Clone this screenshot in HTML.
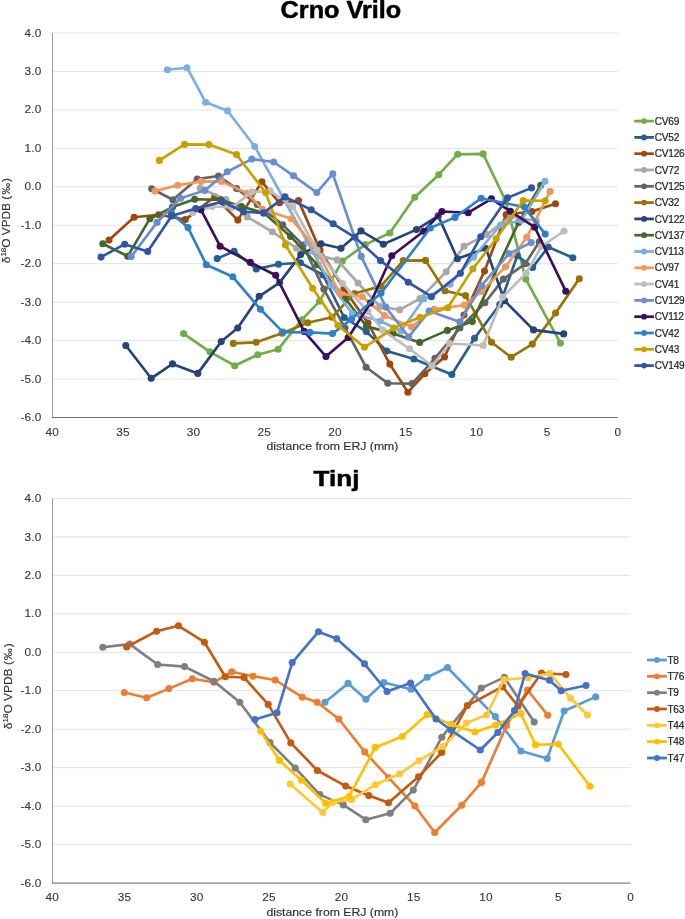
<!DOCTYPE html>
<html><head><meta charset="utf-8"><style>
html,body{margin:0;padding:0;background:#fff;}
body{width:685px;height:919px;overflow:hidden;position:relative;}
svg{position:absolute;left:0;top:0;will-change:transform;}
text{font-family:"Liberation Sans",sans-serif;fill:#404040;}
.tk{font-size:11.8px;letter-spacing:0.2px;fill:#363636;stroke:#363636;stroke-width:0.12px}
.lg{font-size:10.1px;letter-spacing:-0.25px;fill:#222;stroke:#222;stroke-width:0.2px}
.tt{font-size:23.2px;font-weight:bold;fill:#000;stroke:#000;stroke-width:0.5px}
.ax{font-size:10.4px;fill:#303030;stroke:#303030;stroke-width:0.15px}
</style></head><body>
<svg width="685" height="919" viewBox="0 0 685 919">
<text x="280.6" y="17.7" textLength="120.6" lengthAdjust="spacingAndGlyphs" class="tt">Crno Vrilo</text>
<text x="313.6" y="485.6" textLength="45.8" lengthAdjust="spacingAndGlyphs" class="tt" style="font-size:22px">Tinj</text>
<text x="266.4" y="450.1" textLength="132.0" lengthAdjust="spacingAndGlyphs" class="ax">distance from ERJ (mm)</text>
<text x="266.4" y="915.5" textLength="132.0" lengthAdjust="spacingAndGlyphs" class="ax">distance from ERJ (mm)</text>
<text transform="translate(10.0,263.2) rotate(-90)" textLength="85.2" lengthAdjust="spacingAndGlyphs" class="ax">δ<tspan font-size="7" dy="-4">18</tspan><tspan dy="4">O VPDB (&#8202;‰&#8202;)</tspan></text>
<text transform="translate(12.0,729.2) rotate(-90)" textLength="86.0" lengthAdjust="spacingAndGlyphs" class="ax">δ<tspan font-size="7" dy="-4">18</tspan><tspan dy="4">O VPDB (&#8202;‰&#8202;)</tspan></text>
<line x1="52.2" y1="33.00" x2="617.8" y2="33.00" stroke="#e2e2e2" stroke-width="1"/>
<line x1="52.2" y1="71.45" x2="617.8" y2="71.45" stroke="#e2e2e2" stroke-width="1"/>
<line x1="52.2" y1="109.90" x2="617.8" y2="109.90" stroke="#e2e2e2" stroke-width="1"/>
<line x1="52.2" y1="148.35" x2="617.8" y2="148.35" stroke="#e2e2e2" stroke-width="1"/>
<line x1="52.2" y1="186.80" x2="617.8" y2="186.80" stroke="#e2e2e2" stroke-width="1"/>
<line x1="52.2" y1="225.25" x2="617.8" y2="225.25" stroke="#e2e2e2" stroke-width="1"/>
<line x1="52.2" y1="263.70" x2="617.8" y2="263.70" stroke="#e2e2e2" stroke-width="1"/>
<line x1="52.2" y1="302.15" x2="617.8" y2="302.15" stroke="#e2e2e2" stroke-width="1"/>
<line x1="52.2" y1="340.60" x2="617.8" y2="340.60" stroke="#e2e2e2" stroke-width="1"/>
<line x1="52.2" y1="379.05" x2="617.8" y2="379.05" stroke="#e2e2e2" stroke-width="1"/>
<line x1="52.5" y1="33.0" x2="52.5" y2="417.5" stroke="#9a9a9a" stroke-width="1"/>
<line x1="52.0" y1="417.5" x2="617.8" y2="417.5" stroke="#717171" stroke-width="1.15"/>
<text x="41.6" y="36.5" text-anchor="end" class="tk">4.0</text>
<text x="41.6" y="75.0" text-anchor="end" class="tk">3.0</text>
<text x="41.6" y="113.4" text-anchor="end" class="tk">2.0</text>
<text x="41.6" y="151.9" text-anchor="end" class="tk">1.0</text>
<text x="41.6" y="190.3" text-anchor="end" class="tk">0.0</text>
<text x="41.6" y="228.8" text-anchor="end" class="tk">-1.0</text>
<text x="41.6" y="267.2" text-anchor="end" class="tk">-2.0</text>
<text x="41.6" y="305.7" text-anchor="end" class="tk">-3.0</text>
<text x="41.6" y="344.1" text-anchor="end" class="tk">-4.0</text>
<text x="41.6" y="382.6" text-anchor="end" class="tk">-5.0</text>
<text x="41.6" y="421.0" text-anchor="end" class="tk">-6.0</text>
<text x="52.2" y="436.4" text-anchor="middle" class="tk">40</text>
<text x="122.9" y="436.4" text-anchor="middle" class="tk">35</text>
<text x="193.6" y="436.4" text-anchor="middle" class="tk">30</text>
<text x="264.3" y="436.4" text-anchor="middle" class="tk">25</text>
<text x="335.0" y="436.4" text-anchor="middle" class="tk">20</text>
<text x="405.7" y="436.4" text-anchor="middle" class="tk">15</text>
<text x="476.4" y="436.4" text-anchor="middle" class="tk">10</text>
<text x="547.1" y="436.4" text-anchor="middle" class="tk">5</text>
<text x="617.8" y="436.4" text-anchor="middle" class="tk">0</text>
<polyline points="183.6,333.6 209.9,351.8 234.7,365.7 257.7,354.7 278.1,349.3 301.9,319.7 319.5,301.3 342.3,261.0 365.3,244.6 389.8,233.0 414.7,197.2 438.7,174.7 457.7,154.2 483.1,153.9 505.5,200.5 525.8,279.1 560.4,343.1" fill="none" stroke="#70ad47" stroke-width="2.65" stroke-linejoin="round" stroke-linecap="round"/>
<circle cx="183.6" cy="333.6" r="3.55" fill="#70ad47"/>
<circle cx="209.9" cy="351.8" r="3.55" fill="#70ad47"/>
<circle cx="234.7" cy="365.7" r="3.55" fill="#70ad47"/>
<circle cx="257.7" cy="354.7" r="3.55" fill="#70ad47"/>
<circle cx="278.1" cy="349.3" r="3.55" fill="#70ad47"/>
<circle cx="301.9" cy="319.7" r="3.55" fill="#70ad47"/>
<circle cx="319.5" cy="301.3" r="3.55" fill="#70ad47"/>
<circle cx="342.3" cy="261.0" r="3.55" fill="#70ad47"/>
<circle cx="365.3" cy="244.6" r="3.55" fill="#70ad47"/>
<circle cx="389.8" cy="233.0" r="3.55" fill="#70ad47"/>
<circle cx="414.7" cy="197.2" r="3.55" fill="#70ad47"/>
<circle cx="438.7" cy="174.7" r="3.55" fill="#70ad47"/>
<circle cx="457.7" cy="154.2" r="3.55" fill="#70ad47"/>
<circle cx="483.1" cy="153.9" r="3.55" fill="#70ad47"/>
<circle cx="505.5" cy="200.5" r="3.55" fill="#70ad47"/>
<circle cx="525.8" cy="279.1" r="3.55" fill="#70ad47"/>
<circle cx="560.4" cy="343.1" r="3.55" fill="#70ad47"/>
<polyline points="217.2,258.6 234.1,251.2 256.3,269.0 278.5,264.3 300.4,262.8 323.0,275.0 344.2,317.5 366.3,331.6 386.8,351.0 413.9,359.0 451.8,374.5 474.5,338.2 499.8,304.5 517.3,255.8 532.6,267.4 548.2,247.0 572.8,257.7" fill="none" stroke="#255e91" stroke-width="2.65" stroke-linejoin="round" stroke-linecap="round"/>
<circle cx="217.2" cy="258.6" r="3.55" fill="#255e91"/>
<circle cx="234.1" cy="251.2" r="3.55" fill="#255e91"/>
<circle cx="256.3" cy="269.0" r="3.55" fill="#255e91"/>
<circle cx="278.5" cy="264.3" r="3.55" fill="#255e91"/>
<circle cx="300.4" cy="262.8" r="3.55" fill="#255e91"/>
<circle cx="323.0" cy="275.0" r="3.55" fill="#255e91"/>
<circle cx="344.2" cy="317.5" r="3.55" fill="#255e91"/>
<circle cx="366.3" cy="331.6" r="3.55" fill="#255e91"/>
<circle cx="386.8" cy="351.0" r="3.55" fill="#255e91"/>
<circle cx="413.9" cy="359.0" r="3.55" fill="#255e91"/>
<circle cx="451.8" cy="374.5" r="3.55" fill="#255e91"/>
<circle cx="474.5" cy="338.2" r="3.55" fill="#255e91"/>
<circle cx="499.8" cy="304.5" r="3.55" fill="#255e91"/>
<circle cx="517.3" cy="255.8" r="3.55" fill="#255e91"/>
<circle cx="532.6" cy="267.4" r="3.55" fill="#255e91"/>
<circle cx="548.2" cy="247.0" r="3.55" fill="#255e91"/>
<circle cx="572.8" cy="257.7" r="3.55" fill="#255e91"/>
<polyline points="109.0,240.1 134.1,217.2 158.7,214.8 185.3,219.6 214.7,196.8 237.8,220.1 261.9,181.8 279.5,202.8 298.5,200.6 320.0,250.0 343.9,288.8 368.0,323.0 389.8,364.1 407.9,392.3 424.8,373.7 444.5,356.9 464.0,315.0 484.5,271.1 506.2,214.5 531.9,211.5 555.5,203.8" fill="none" stroke="#9e480e" stroke-width="2.65" stroke-linejoin="round" stroke-linecap="round"/>
<circle cx="109.0" cy="240.1" r="3.55" fill="#9e480e"/>
<circle cx="134.1" cy="217.2" r="3.55" fill="#9e480e"/>
<circle cx="158.7" cy="214.8" r="3.55" fill="#9e480e"/>
<circle cx="185.3" cy="219.6" r="3.55" fill="#9e480e"/>
<circle cx="214.7" cy="196.8" r="3.55" fill="#9e480e"/>
<circle cx="237.8" cy="220.1" r="3.55" fill="#9e480e"/>
<circle cx="261.9" cy="181.8" r="3.55" fill="#9e480e"/>
<circle cx="279.5" cy="202.8" r="3.55" fill="#9e480e"/>
<circle cx="298.5" cy="200.6" r="3.55" fill="#9e480e"/>
<circle cx="320.0" cy="250.0" r="3.55" fill="#9e480e"/>
<circle cx="343.9" cy="288.8" r="3.55" fill="#9e480e"/>
<circle cx="368.0" cy="323.0" r="3.55" fill="#9e480e"/>
<circle cx="389.8" cy="364.1" r="3.55" fill="#9e480e"/>
<circle cx="407.9" cy="392.3" r="3.55" fill="#9e480e"/>
<circle cx="424.8" cy="373.7" r="3.55" fill="#9e480e"/>
<circle cx="444.5" cy="356.9" r="3.55" fill="#9e480e"/>
<circle cx="464.0" cy="315.0" r="3.55" fill="#9e480e"/>
<circle cx="484.5" cy="271.1" r="3.55" fill="#9e480e"/>
<circle cx="506.2" cy="214.5" r="3.55" fill="#9e480e"/>
<circle cx="531.9" cy="211.5" r="3.55" fill="#9e480e"/>
<circle cx="555.5" cy="203.8" r="3.55" fill="#9e480e"/>
<polyline points="200.3,188.3 225.9,199.5 247.3,216.9 272.3,231.8 296.6,248.2 320.6,256.1 337.2,259.9 358.0,283.0 380.0,306.5 399.6,309.8 420.0,298.6 446.2,271.8 464.0,246.3 486.6,234.6 511.0,216.5 536.3,221.0" fill="none" stroke="#a8a8a8" stroke-width="2.65" stroke-linejoin="round" stroke-linecap="round"/>
<circle cx="200.3" cy="188.3" r="3.55" fill="#a8a8a8"/>
<circle cx="225.9" cy="199.5" r="3.55" fill="#a8a8a8"/>
<circle cx="247.3" cy="216.9" r="3.55" fill="#a8a8a8"/>
<circle cx="272.3" cy="231.8" r="3.55" fill="#a8a8a8"/>
<circle cx="296.6" cy="248.2" r="3.55" fill="#a8a8a8"/>
<circle cx="320.6" cy="256.1" r="3.55" fill="#a8a8a8"/>
<circle cx="337.2" cy="259.9" r="3.55" fill="#a8a8a8"/>
<circle cx="358.0" cy="283.0" r="3.55" fill="#a8a8a8"/>
<circle cx="380.0" cy="306.5" r="3.55" fill="#a8a8a8"/>
<circle cx="399.6" cy="309.8" r="3.55" fill="#a8a8a8"/>
<circle cx="420.0" cy="298.6" r="3.55" fill="#a8a8a8"/>
<circle cx="446.2" cy="271.8" r="3.55" fill="#a8a8a8"/>
<circle cx="464.0" cy="246.3" r="3.55" fill="#a8a8a8"/>
<circle cx="486.6" cy="234.6" r="3.55" fill="#a8a8a8"/>
<circle cx="511.0" cy="216.5" r="3.55" fill="#a8a8a8"/>
<circle cx="536.3" cy="221.0" r="3.55" fill="#a8a8a8"/>
<polyline points="151.7,188.8 172.9,199.7 197.2,179.1 218.5,176.0 236.6,188.5 257.3,204.5 282.7,224.7 303.0,245.0 323.8,289.1 345.0,328.0 366.1,367.2 387.8,383.3 412.2,383.6 435.0,358.4 459.9,328.0 484.9,302.7 503.4,279.1 525.3,263.8 539.2,241.9" fill="none" stroke="#636363" stroke-width="2.65" stroke-linejoin="round" stroke-linecap="round"/>
<circle cx="151.7" cy="188.8" r="3.55" fill="#636363"/>
<circle cx="172.9" cy="199.7" r="3.55" fill="#636363"/>
<circle cx="197.2" cy="179.1" r="3.55" fill="#636363"/>
<circle cx="218.5" cy="176.0" r="3.55" fill="#636363"/>
<circle cx="236.6" cy="188.5" r="3.55" fill="#636363"/>
<circle cx="257.3" cy="204.5" r="3.55" fill="#636363"/>
<circle cx="282.7" cy="224.7" r="3.55" fill="#636363"/>
<circle cx="303.0" cy="245.0" r="3.55" fill="#636363"/>
<circle cx="323.8" cy="289.1" r="3.55" fill="#636363"/>
<circle cx="345.0" cy="328.0" r="3.55" fill="#636363"/>
<circle cx="366.1" cy="367.2" r="3.55" fill="#636363"/>
<circle cx="387.8" cy="383.3" r="3.55" fill="#636363"/>
<circle cx="412.2" cy="383.6" r="3.55" fill="#636363"/>
<circle cx="435.0" cy="358.4" r="3.55" fill="#636363"/>
<circle cx="459.9" cy="328.0" r="3.55" fill="#636363"/>
<circle cx="484.9" cy="302.7" r="3.55" fill="#636363"/>
<circle cx="503.4" cy="279.1" r="3.55" fill="#636363"/>
<circle cx="525.3" cy="263.8" r="3.55" fill="#636363"/>
<circle cx="539.2" cy="241.9" r="3.55" fill="#636363"/>
<polyline points="233.3,343.4 256.2,342.3 282.0,333.3 307.8,322.7 332.0,317.2 354.5,293.5 381.0,286.1 403.2,260.6 425.5,260.4 445.0,290.8 465.5,295.6 491.5,342.3 511.2,357.2 532.3,344.1 555.6,313.0 579.3,278.7" fill="none" stroke="#997300" stroke-width="2.65" stroke-linejoin="round" stroke-linecap="round"/>
<circle cx="233.3" cy="343.4" r="3.55" fill="#997300"/>
<circle cx="256.2" cy="342.3" r="3.55" fill="#997300"/>
<circle cx="282.0" cy="333.3" r="3.55" fill="#997300"/>
<circle cx="307.8" cy="322.7" r="3.55" fill="#997300"/>
<circle cx="332.0" cy="317.2" r="3.55" fill="#997300"/>
<circle cx="354.5" cy="293.5" r="3.55" fill="#997300"/>
<circle cx="381.0" cy="286.1" r="3.55" fill="#997300"/>
<circle cx="403.2" cy="260.6" r="3.55" fill="#997300"/>
<circle cx="425.5" cy="260.4" r="3.55" fill="#997300"/>
<circle cx="445.0" cy="290.8" r="3.55" fill="#997300"/>
<circle cx="465.5" cy="295.6" r="3.55" fill="#997300"/>
<circle cx="491.5" cy="342.3" r="3.55" fill="#997300"/>
<circle cx="511.2" cy="357.2" r="3.55" fill="#997300"/>
<circle cx="532.3" cy="344.1" r="3.55" fill="#997300"/>
<circle cx="555.6" cy="313.0" r="3.55" fill="#997300"/>
<circle cx="579.3" cy="278.7" r="3.55" fill="#997300"/>
<polyline points="125.8,345.5 151.2,378.3 172.5,363.9 197.8,373.4 221.2,341.6 237.7,328.0 259.2,296.3 279.6,282.6 300.7,254.6 321.0,243.7 341.0,248.2 361.0,230.9 383.3,244.2 416.5,229.6 438.2,215.9 457.4,258.7 485.9,248.5 504.6,300.7 533.5,329.9 563.7,333.9" fill="none" stroke="#264478" stroke-width="2.65" stroke-linejoin="round" stroke-linecap="round"/>
<circle cx="125.8" cy="345.5" r="3.55" fill="#264478"/>
<circle cx="151.2" cy="378.3" r="3.55" fill="#264478"/>
<circle cx="172.5" cy="363.9" r="3.55" fill="#264478"/>
<circle cx="197.8" cy="373.4" r="3.55" fill="#264478"/>
<circle cx="221.2" cy="341.6" r="3.55" fill="#264478"/>
<circle cx="237.7" cy="328.0" r="3.55" fill="#264478"/>
<circle cx="259.2" cy="296.3" r="3.55" fill="#264478"/>
<circle cx="279.6" cy="282.6" r="3.55" fill="#264478"/>
<circle cx="300.7" cy="254.6" r="3.55" fill="#264478"/>
<circle cx="321.0" cy="243.7" r="3.55" fill="#264478"/>
<circle cx="341.0" cy="248.2" r="3.55" fill="#264478"/>
<circle cx="361.0" cy="230.9" r="3.55" fill="#264478"/>
<circle cx="383.3" cy="244.2" r="3.55" fill="#264478"/>
<circle cx="416.5" cy="229.6" r="3.55" fill="#264478"/>
<circle cx="438.2" cy="215.9" r="3.55" fill="#264478"/>
<circle cx="457.4" cy="258.7" r="3.55" fill="#264478"/>
<circle cx="485.9" cy="248.5" r="3.55" fill="#264478"/>
<circle cx="504.6" cy="300.7" r="3.55" fill="#264478"/>
<circle cx="533.5" cy="329.9" r="3.55" fill="#264478"/>
<circle cx="563.7" cy="333.9" r="3.55" fill="#264478"/>
<polyline points="102.8,243.8 127.7,256.2 149.9,218.7 172.5,207.1 194.7,199.2 221.0,199.9 241.5,206.5 264.0,213.0 290.5,236.4 317.6,264.8 345.0,298.0 366.5,326.4 393.1,333.4 419.7,342.4 447.4,330.4 472.3,321.6 518.5,222.6 540.7,185.3" fill="none" stroke="#43682b" stroke-width="2.65" stroke-linejoin="round" stroke-linecap="round"/>
<circle cx="102.8" cy="243.8" r="3.55" fill="#43682b"/>
<circle cx="127.7" cy="256.2" r="3.55" fill="#43682b"/>
<circle cx="149.9" cy="218.7" r="3.55" fill="#43682b"/>
<circle cx="172.5" cy="207.1" r="3.55" fill="#43682b"/>
<circle cx="194.7" cy="199.2" r="3.55" fill="#43682b"/>
<circle cx="221.0" cy="199.9" r="3.55" fill="#43682b"/>
<circle cx="241.5" cy="206.5" r="3.55" fill="#43682b"/>
<circle cx="264.0" cy="213.0" r="3.55" fill="#43682b"/>
<circle cx="290.5" cy="236.4" r="3.55" fill="#43682b"/>
<circle cx="317.6" cy="264.8" r="3.55" fill="#43682b"/>
<circle cx="345.0" cy="298.0" r="3.55" fill="#43682b"/>
<circle cx="366.5" cy="326.4" r="3.55" fill="#43682b"/>
<circle cx="393.1" cy="333.4" r="3.55" fill="#43682b"/>
<circle cx="419.7" cy="342.4" r="3.55" fill="#43682b"/>
<circle cx="447.4" cy="330.4" r="3.55" fill="#43682b"/>
<circle cx="472.3" cy="321.6" r="3.55" fill="#43682b"/>
<circle cx="518.5" cy="222.6" r="3.55" fill="#43682b"/>
<circle cx="540.7" cy="185.3" r="3.55" fill="#43682b"/>
<polyline points="167.4,69.8 187.0,67.7 205.6,102.2 227.5,110.7 254.7,146.5 307.5,242.0 331.0,285.0 352.4,313.5 380.4,321.0 401.0,331.0 423.9,298.8 450.1,284.2 473.5,257.2 500.6,225.0 521.5,220.5 545.0,181.2" fill="none" stroke="#7cafdd" stroke-width="2.65" stroke-linejoin="round" stroke-linecap="round"/>
<circle cx="167.4" cy="69.8" r="3.55" fill="#7cafdd"/>
<circle cx="187.0" cy="67.7" r="3.55" fill="#7cafdd"/>
<circle cx="205.6" cy="102.2" r="3.55" fill="#7cafdd"/>
<circle cx="227.5" cy="110.7" r="3.55" fill="#7cafdd"/>
<circle cx="254.7" cy="146.5" r="3.55" fill="#7cafdd"/>
<circle cx="307.5" cy="242.0" r="3.55" fill="#7cafdd"/>
<circle cx="331.0" cy="285.0" r="3.55" fill="#7cafdd"/>
<circle cx="352.4" cy="313.5" r="3.55" fill="#7cafdd"/>
<circle cx="380.4" cy="321.0" r="3.55" fill="#7cafdd"/>
<circle cx="401.0" cy="331.0" r="3.55" fill="#7cafdd"/>
<circle cx="423.9" cy="298.8" r="3.55" fill="#7cafdd"/>
<circle cx="450.1" cy="284.2" r="3.55" fill="#7cafdd"/>
<circle cx="473.5" cy="257.2" r="3.55" fill="#7cafdd"/>
<circle cx="500.6" cy="225.0" r="3.55" fill="#7cafdd"/>
<circle cx="521.5" cy="220.5" r="3.55" fill="#7cafdd"/>
<circle cx="545.0" cy="181.2" r="3.55" fill="#7cafdd"/>
<polyline points="155.1,191.1 177.6,185.2 201.0,181.4 221.5,181.6 247.4,193.3 262.3,209.3 291.2,218.8 313.3,245.1 340.1,293.8 362.2,296.8 384.6,315.6 411.6,326.9 434.2,309.3 464.5,305.1 481.5,291.5 505.6,266.7 526.8,237.3 550.1,191.4" fill="none" stroke="#f1975a" stroke-width="2.65" stroke-linejoin="round" stroke-linecap="round"/>
<circle cx="155.1" cy="191.1" r="3.55" fill="#f1975a"/>
<circle cx="177.6" cy="185.2" r="3.55" fill="#f1975a"/>
<circle cx="201.0" cy="181.4" r="3.55" fill="#f1975a"/>
<circle cx="221.5" cy="181.6" r="3.55" fill="#f1975a"/>
<circle cx="247.4" cy="193.3" r="3.55" fill="#f1975a"/>
<circle cx="262.3" cy="209.3" r="3.55" fill="#f1975a"/>
<circle cx="291.2" cy="218.8" r="3.55" fill="#f1975a"/>
<circle cx="313.3" cy="245.1" r="3.55" fill="#f1975a"/>
<circle cx="340.1" cy="293.8" r="3.55" fill="#f1975a"/>
<circle cx="362.2" cy="296.8" r="3.55" fill="#f1975a"/>
<circle cx="384.6" cy="315.6" r="3.55" fill="#f1975a"/>
<circle cx="411.6" cy="326.9" r="3.55" fill="#f1975a"/>
<circle cx="434.2" cy="309.3" r="3.55" fill="#f1975a"/>
<circle cx="464.5" cy="305.1" r="3.55" fill="#f1975a"/>
<circle cx="481.5" cy="291.5" r="3.55" fill="#f1975a"/>
<circle cx="505.6" cy="266.7" r="3.55" fill="#f1975a"/>
<circle cx="526.8" cy="237.3" r="3.55" fill="#f1975a"/>
<circle cx="550.1" cy="191.4" r="3.55" fill="#f1975a"/>
<polyline points="192.7,212.8 212.0,206.5 232.0,207.5 251.9,191.9 270.2,191.1 292.7,206.5 317.0,250.0 342.5,283.5 368.0,311.5 382.6,330.1 409.5,348.8 432.1,365.7 449.6,343.5 483.2,345.5 502.7,297.1 526.1,273.3 541.5,246.5 564.0,231.0" fill="none" stroke="#bdbdbd" stroke-width="2.65" stroke-linejoin="round" stroke-linecap="round"/>
<circle cx="192.7" cy="212.8" r="3.55" fill="#bdbdbd"/>
<circle cx="212.0" cy="206.5" r="3.55" fill="#bdbdbd"/>
<circle cx="232.0" cy="207.5" r="3.55" fill="#bdbdbd"/>
<circle cx="251.9" cy="191.9" r="3.55" fill="#bdbdbd"/>
<circle cx="270.2" cy="191.1" r="3.55" fill="#bdbdbd"/>
<circle cx="292.7" cy="206.5" r="3.55" fill="#bdbdbd"/>
<circle cx="317.0" cy="250.0" r="3.55" fill="#bdbdbd"/>
<circle cx="342.5" cy="283.5" r="3.55" fill="#bdbdbd"/>
<circle cx="368.0" cy="311.5" r="3.55" fill="#bdbdbd"/>
<circle cx="382.6" cy="330.1" r="3.55" fill="#bdbdbd"/>
<circle cx="409.5" cy="348.8" r="3.55" fill="#bdbdbd"/>
<circle cx="432.1" cy="365.7" r="3.55" fill="#bdbdbd"/>
<circle cx="449.6" cy="343.5" r="3.55" fill="#bdbdbd"/>
<circle cx="483.2" cy="345.5" r="3.55" fill="#bdbdbd"/>
<circle cx="502.7" cy="297.1" r="3.55" fill="#bdbdbd"/>
<circle cx="526.1" cy="273.3" r="3.55" fill="#bdbdbd"/>
<circle cx="541.5" cy="246.5" r="3.55" fill="#bdbdbd"/>
<circle cx="564.0" cy="231.0" r="3.55" fill="#bdbdbd"/>
<polyline points="131.2,256.6 157.0,222.4 180.6,198.2 204.8,190.4 227.3,171.8 251.8,159.1 273.7,162.0 293.6,175.8 316.8,192.6 332.8,173.9 361.2,256.4 385.8,307.1 408.7,337.0 429.1,311.1 459.9,321.9 481.5,285.7 509.0,253.6 531.2,242.6" fill="none" stroke="#698ed0" stroke-width="2.65" stroke-linejoin="round" stroke-linecap="round"/>
<circle cx="131.2" cy="256.6" r="3.55" fill="#698ed0"/>
<circle cx="157.0" cy="222.4" r="3.55" fill="#698ed0"/>
<circle cx="180.6" cy="198.2" r="3.55" fill="#698ed0"/>
<circle cx="204.8" cy="190.4" r="3.55" fill="#698ed0"/>
<circle cx="227.3" cy="171.8" r="3.55" fill="#698ed0"/>
<circle cx="251.8" cy="159.1" r="3.55" fill="#698ed0"/>
<circle cx="273.7" cy="162.0" r="3.55" fill="#698ed0"/>
<circle cx="293.6" cy="175.8" r="3.55" fill="#698ed0"/>
<circle cx="316.8" cy="192.6" r="3.55" fill="#698ed0"/>
<circle cx="332.8" cy="173.9" r="3.55" fill="#698ed0"/>
<circle cx="361.2" cy="256.4" r="3.55" fill="#698ed0"/>
<circle cx="385.8" cy="307.1" r="3.55" fill="#698ed0"/>
<circle cx="408.7" cy="337.0" r="3.55" fill="#698ed0"/>
<circle cx="429.1" cy="311.1" r="3.55" fill="#698ed0"/>
<circle cx="459.9" cy="321.9" r="3.55" fill="#698ed0"/>
<circle cx="481.5" cy="285.7" r="3.55" fill="#698ed0"/>
<circle cx="509.0" cy="253.6" r="3.55" fill="#698ed0"/>
<circle cx="531.2" cy="242.6" r="3.55" fill="#698ed0"/>
<polyline points="200.9,209.7 220.1,246.2 250.3,262.4 275.7,275.3 304.1,331.4 326.0,356.6 348.2,337.5 370.5,303.0 391.8,255.7 423.7,231.3 441.9,211.5 468.2,212.7 491.4,198.8 510.4,211.3 534.7,227.2 565.8,291.2" fill="none" stroke="#3a0f5c" stroke-width="2.65" stroke-linejoin="round" stroke-linecap="round"/>
<circle cx="200.9" cy="209.7" r="3.55" fill="#3a0f5c"/>
<circle cx="220.1" cy="246.2" r="3.55" fill="#3a0f5c"/>
<circle cx="250.3" cy="262.4" r="3.55" fill="#3a0f5c"/>
<circle cx="275.7" cy="275.3" r="3.55" fill="#3a0f5c"/>
<circle cx="304.1" cy="331.4" r="3.55" fill="#3a0f5c"/>
<circle cx="326.0" cy="356.6" r="3.55" fill="#3a0f5c"/>
<circle cx="348.2" cy="337.5" r="3.55" fill="#3a0f5c"/>
<circle cx="370.5" cy="303.0" r="3.55" fill="#3a0f5c"/>
<circle cx="391.8" cy="255.7" r="3.55" fill="#3a0f5c"/>
<circle cx="423.7" cy="231.3" r="3.55" fill="#3a0f5c"/>
<circle cx="441.9" cy="211.5" r="3.55" fill="#3a0f5c"/>
<circle cx="468.2" cy="212.7" r="3.55" fill="#3a0f5c"/>
<circle cx="491.4" cy="198.8" r="3.55" fill="#3a0f5c"/>
<circle cx="510.4" cy="211.3" r="3.55" fill="#3a0f5c"/>
<circle cx="534.7" cy="227.2" r="3.55" fill="#3a0f5c"/>
<circle cx="565.8" cy="291.2" r="3.55" fill="#3a0f5c"/>
<polyline points="171.4,213.0 188.0,227.6 206.3,264.7 232.8,276.8 260.4,309.3 283.0,332.1 309.9,332.4 332.5,333.6 351.6,319.1 381.0,293.1 430.3,228.0 455.0,217.4 481.1,198.2 524.4,207.1 545.2,234.1" fill="none" stroke="#2e80c8" stroke-width="2.65" stroke-linejoin="round" stroke-linecap="round"/>
<circle cx="171.4" cy="213.0" r="3.55" fill="#2e80c8"/>
<circle cx="188.0" cy="227.6" r="3.55" fill="#2e80c8"/>
<circle cx="206.3" cy="264.7" r="3.55" fill="#2e80c8"/>
<circle cx="232.8" cy="276.8" r="3.55" fill="#2e80c8"/>
<circle cx="260.4" cy="309.3" r="3.55" fill="#2e80c8"/>
<circle cx="283.0" cy="332.1" r="3.55" fill="#2e80c8"/>
<circle cx="309.9" cy="332.4" r="3.55" fill="#2e80c8"/>
<circle cx="332.5" cy="333.6" r="3.55" fill="#2e80c8"/>
<circle cx="351.6" cy="319.1" r="3.55" fill="#2e80c8"/>
<circle cx="381.0" cy="293.1" r="3.55" fill="#2e80c8"/>
<circle cx="430.3" cy="228.0" r="3.55" fill="#2e80c8"/>
<circle cx="455.0" cy="217.4" r="3.55" fill="#2e80c8"/>
<circle cx="481.1" cy="198.2" r="3.55" fill="#2e80c8"/>
<circle cx="524.4" cy="207.1" r="3.55" fill="#2e80c8"/>
<circle cx="545.2" cy="234.1" r="3.55" fill="#2e80c8"/>
<polyline points="159.4,160.4 184.5,144.4 208.9,144.6 236.5,154.6 265.6,192.6 285.4,245.0 312.7,288.3 337.9,325.2 364.4,347.3 393.7,328.1 420.0,317.3 447.7,307.8 472.8,268.9 496.2,238.7 523.2,200.5 545.2,200.7" fill="none" stroke="#c9a000" stroke-width="2.65" stroke-linejoin="round" stroke-linecap="round"/>
<circle cx="159.4" cy="160.4" r="3.55" fill="#c9a000"/>
<circle cx="184.5" cy="144.4" r="3.55" fill="#c9a000"/>
<circle cx="208.9" cy="144.6" r="3.55" fill="#c9a000"/>
<circle cx="236.5" cy="154.6" r="3.55" fill="#c9a000"/>
<circle cx="265.6" cy="192.6" r="3.55" fill="#c9a000"/>
<circle cx="285.4" cy="245.0" r="3.55" fill="#c9a000"/>
<circle cx="312.7" cy="288.3" r="3.55" fill="#c9a000"/>
<circle cx="337.9" cy="325.2" r="3.55" fill="#c9a000"/>
<circle cx="364.4" cy="347.3" r="3.55" fill="#c9a000"/>
<circle cx="393.7" cy="328.1" r="3.55" fill="#c9a000"/>
<circle cx="420.0" cy="317.3" r="3.55" fill="#c9a000"/>
<circle cx="447.7" cy="307.8" r="3.55" fill="#c9a000"/>
<circle cx="472.8" cy="268.9" r="3.55" fill="#c9a000"/>
<circle cx="496.2" cy="238.7" r="3.55" fill="#c9a000"/>
<circle cx="523.2" cy="200.5" r="3.55" fill="#c9a000"/>
<circle cx="545.2" cy="200.7" r="3.55" fill="#c9a000"/>
<polyline points="101.0,257.1 124.7,244.2 147.7,251.5 171.6,215.9 195.7,208.6 222.2,201.8 243.7,211.7 263.5,212.9 285.0,196.9 311.2,209.8 333.2,223.8 354.9,237.3 380.5,260.6 408.3,282.3 431.4,296.7 460.4,273.3 480.8,236.7 507.5,197.8 531.5,187.9" fill="none" stroke="#2f55a4" stroke-width="2.65" stroke-linejoin="round" stroke-linecap="round"/>
<circle cx="101.0" cy="257.1" r="3.55" fill="#2f55a4"/>
<circle cx="124.7" cy="244.2" r="3.55" fill="#2f55a4"/>
<circle cx="147.7" cy="251.5" r="3.55" fill="#2f55a4"/>
<circle cx="171.6" cy="215.9" r="3.55" fill="#2f55a4"/>
<circle cx="195.7" cy="208.6" r="3.55" fill="#2f55a4"/>
<circle cx="222.2" cy="201.8" r="3.55" fill="#2f55a4"/>
<circle cx="243.7" cy="211.7" r="3.55" fill="#2f55a4"/>
<circle cx="263.5" cy="212.9" r="3.55" fill="#2f55a4"/>
<circle cx="285.0" cy="196.9" r="3.55" fill="#2f55a4"/>
<circle cx="311.2" cy="209.8" r="3.55" fill="#2f55a4"/>
<circle cx="333.2" cy="223.8" r="3.55" fill="#2f55a4"/>
<circle cx="354.9" cy="237.3" r="3.55" fill="#2f55a4"/>
<circle cx="380.5" cy="260.6" r="3.55" fill="#2f55a4"/>
<circle cx="408.3" cy="282.3" r="3.55" fill="#2f55a4"/>
<circle cx="431.4" cy="296.7" r="3.55" fill="#2f55a4"/>
<circle cx="460.4" cy="273.3" r="3.55" fill="#2f55a4"/>
<circle cx="480.8" cy="236.7" r="3.55" fill="#2f55a4"/>
<circle cx="507.5" cy="197.8" r="3.55" fill="#2f55a4"/>
<circle cx="531.5" cy="187.9" r="3.55" fill="#2f55a4"/>
<line x1="52.2" y1="498.50" x2="630.6" y2="498.50" stroke="#e2e2e2" stroke-width="1"/>
<line x1="52.2" y1="536.95" x2="630.6" y2="536.95" stroke="#e2e2e2" stroke-width="1"/>
<line x1="52.2" y1="575.40" x2="630.6" y2="575.40" stroke="#e2e2e2" stroke-width="1"/>
<line x1="52.2" y1="613.85" x2="630.6" y2="613.85" stroke="#e2e2e2" stroke-width="1"/>
<line x1="52.2" y1="652.30" x2="630.6" y2="652.30" stroke="#e2e2e2" stroke-width="1"/>
<line x1="52.2" y1="690.75" x2="630.6" y2="690.75" stroke="#e2e2e2" stroke-width="1"/>
<line x1="52.2" y1="729.20" x2="630.6" y2="729.20" stroke="#e2e2e2" stroke-width="1"/>
<line x1="52.2" y1="767.65" x2="630.6" y2="767.65" stroke="#e2e2e2" stroke-width="1"/>
<line x1="52.2" y1="806.10" x2="630.6" y2="806.10" stroke="#e2e2e2" stroke-width="1"/>
<line x1="52.2" y1="844.55" x2="630.6" y2="844.55" stroke="#e2e2e2" stroke-width="1"/>
<line x1="52.5" y1="498.5" x2="52.5" y2="883.0" stroke="#9a9a9a" stroke-width="1"/>
<line x1="52.0" y1="883.0" x2="630.6" y2="883.0" stroke="#838383" stroke-width="1.25"/>
<text x="41.6" y="502.0" text-anchor="end" class="tk">4.0</text>
<text x="41.6" y="540.5" text-anchor="end" class="tk">3.0</text>
<text x="41.6" y="578.9" text-anchor="end" class="tk">2.0</text>
<text x="41.6" y="617.4" text-anchor="end" class="tk">1.0</text>
<text x="41.6" y="655.8" text-anchor="end" class="tk">0.0</text>
<text x="41.6" y="694.2" text-anchor="end" class="tk">-1.0</text>
<text x="41.6" y="732.7" text-anchor="end" class="tk">-2.0</text>
<text x="41.6" y="771.2" text-anchor="end" class="tk">-3.0</text>
<text x="41.6" y="809.6" text-anchor="end" class="tk">-4.0</text>
<text x="41.6" y="848.0" text-anchor="end" class="tk">-5.0</text>
<text x="41.6" y="886.5" text-anchor="end" class="tk">-6.0</text>
<text x="52.2" y="901.4" text-anchor="middle" class="tk">40</text>
<text x="124.5" y="901.4" text-anchor="middle" class="tk">35</text>
<text x="196.8" y="901.4" text-anchor="middle" class="tk">30</text>
<text x="269.1" y="901.4" text-anchor="middle" class="tk">25</text>
<text x="341.4" y="901.4" text-anchor="middle" class="tk">20</text>
<text x="413.7" y="901.4" text-anchor="middle" class="tk">15</text>
<text x="486.0" y="901.4" text-anchor="middle" class="tk">10</text>
<text x="558.3" y="901.4" text-anchor="middle" class="tk">5</text>
<text x="630.6" y="901.4" text-anchor="middle" class="tk">0</text>
<polyline points="325.0,702.3 348.1,683.4 365.9,699.2 383.8,682.5 411.0,689.2 427.2,677.3 447.4,667.5 495.3,716.6 520.9,751.0 547.2,758.5 564.1,711.0 595.7,696.9" fill="none" stroke="#5b9bd5" stroke-width="2.65" stroke-linejoin="round" stroke-linecap="round"/>
<circle cx="325.0" cy="702.3" r="3.55" fill="#5b9bd5"/>
<circle cx="348.1" cy="683.4" r="3.55" fill="#5b9bd5"/>
<circle cx="365.9" cy="699.2" r="3.55" fill="#5b9bd5"/>
<circle cx="383.8" cy="682.5" r="3.55" fill="#5b9bd5"/>
<circle cx="411.0" cy="689.2" r="3.55" fill="#5b9bd5"/>
<circle cx="427.2" cy="677.3" r="3.55" fill="#5b9bd5"/>
<circle cx="447.4" cy="667.5" r="3.55" fill="#5b9bd5"/>
<circle cx="495.3" cy="716.6" r="3.55" fill="#5b9bd5"/>
<circle cx="520.9" cy="751.0" r="3.55" fill="#5b9bd5"/>
<circle cx="547.2" cy="758.5" r="3.55" fill="#5b9bd5"/>
<circle cx="564.1" cy="711.0" r="3.55" fill="#5b9bd5"/>
<circle cx="595.7" cy="696.9" r="3.55" fill="#5b9bd5"/>
<polyline points="124.3,692.5 146.6,697.8 168.9,688.6 192.4,678.7 213.9,682.3 231.8,671.7 253.0,676.3 275.2,680.0 302.2,697.1 317.1,702.3 338.8,719.0 364.7,751.9 388.5,777.7 414.9,806.0 434.7,832.5 461.7,805.2 481.5,782.4 506.6,725.5 527.5,690.0 547.7,715.2" fill="none" stroke="#ed7d31" stroke-width="2.65" stroke-linejoin="round" stroke-linecap="round"/>
<circle cx="124.3" cy="692.5" r="3.55" fill="#ed7d31"/>
<circle cx="146.6" cy="697.8" r="3.55" fill="#ed7d31"/>
<circle cx="168.9" cy="688.6" r="3.55" fill="#ed7d31"/>
<circle cx="192.4" cy="678.7" r="3.55" fill="#ed7d31"/>
<circle cx="213.9" cy="682.3" r="3.55" fill="#ed7d31"/>
<circle cx="231.8" cy="671.7" r="3.55" fill="#ed7d31"/>
<circle cx="253.0" cy="676.3" r="3.55" fill="#ed7d31"/>
<circle cx="275.2" cy="680.0" r="3.55" fill="#ed7d31"/>
<circle cx="302.2" cy="697.1" r="3.55" fill="#ed7d31"/>
<circle cx="317.1" cy="702.3" r="3.55" fill="#ed7d31"/>
<circle cx="338.8" cy="719.0" r="3.55" fill="#ed7d31"/>
<circle cx="364.7" cy="751.9" r="3.55" fill="#ed7d31"/>
<circle cx="388.5" cy="777.7" r="3.55" fill="#ed7d31"/>
<circle cx="414.9" cy="806.0" r="3.55" fill="#ed7d31"/>
<circle cx="434.7" cy="832.5" r="3.55" fill="#ed7d31"/>
<circle cx="461.7" cy="805.2" r="3.55" fill="#ed7d31"/>
<circle cx="481.5" cy="782.4" r="3.55" fill="#ed7d31"/>
<circle cx="506.6" cy="725.5" r="3.55" fill="#ed7d31"/>
<circle cx="527.5" cy="690.0" r="3.55" fill="#ed7d31"/>
<circle cx="547.7" cy="715.2" r="3.55" fill="#ed7d31"/>
<polyline points="102.8,647.2 129.7,644.1 157.7,664.5 184.5,666.6 213.9,681.3 239.8,702.3 270.0,742.6 295.2,768.0 319.8,794.6 343.3,804.9 365.8,819.7 390.2,813.2 413.3,790.1 441.8,737.2 481.2,688.1 504.3,677.4 534.2,722.0" fill="none" stroke="#7f7f7f" stroke-width="2.65" stroke-linejoin="round" stroke-linecap="round"/>
<circle cx="102.8" cy="647.2" r="3.55" fill="#7f7f7f"/>
<circle cx="129.7" cy="644.1" r="3.55" fill="#7f7f7f"/>
<circle cx="157.7" cy="664.5" r="3.55" fill="#7f7f7f"/>
<circle cx="184.5" cy="666.6" r="3.55" fill="#7f7f7f"/>
<circle cx="213.9" cy="681.3" r="3.55" fill="#7f7f7f"/>
<circle cx="239.8" cy="702.3" r="3.55" fill="#7f7f7f"/>
<circle cx="270.0" cy="742.6" r="3.55" fill="#7f7f7f"/>
<circle cx="295.2" cy="768.0" r="3.55" fill="#7f7f7f"/>
<circle cx="319.8" cy="794.6" r="3.55" fill="#7f7f7f"/>
<circle cx="343.3" cy="804.9" r="3.55" fill="#7f7f7f"/>
<circle cx="365.8" cy="819.7" r="3.55" fill="#7f7f7f"/>
<circle cx="390.2" cy="813.2" r="3.55" fill="#7f7f7f"/>
<circle cx="413.3" cy="790.1" r="3.55" fill="#7f7f7f"/>
<circle cx="441.8" cy="737.2" r="3.55" fill="#7f7f7f"/>
<circle cx="481.2" cy="688.1" r="3.55" fill="#7f7f7f"/>
<circle cx="504.3" cy="677.4" r="3.55" fill="#7f7f7f"/>
<circle cx="534.2" cy="722.0" r="3.55" fill="#7f7f7f"/>
<polyline points="126.6,647.0 156.6,631.2 178.5,625.8 204.4,642.2 225.3,676.8 244.0,677.5 268.2,704.4 290.8,742.9 317.4,770.5 345.7,786.1 368.8,795.6 388.5,802.7 418.5,776.8 441.7,752.4 467.3,705.6 502.6,686.7 518.0,706.2 541.5,673.1 565.9,674.5" fill="none" stroke="#c55a11" stroke-width="2.65" stroke-linejoin="round" stroke-linecap="round"/>
<circle cx="126.6" cy="647.0" r="3.55" fill="#c55a11"/>
<circle cx="156.6" cy="631.2" r="3.55" fill="#c55a11"/>
<circle cx="178.5" cy="625.8" r="3.55" fill="#c55a11"/>
<circle cx="204.4" cy="642.2" r="3.55" fill="#c55a11"/>
<circle cx="225.3" cy="676.8" r="3.55" fill="#c55a11"/>
<circle cx="244.0" cy="677.5" r="3.55" fill="#c55a11"/>
<circle cx="268.2" cy="704.4" r="3.55" fill="#c55a11"/>
<circle cx="290.8" cy="742.9" r="3.55" fill="#c55a11"/>
<circle cx="317.4" cy="770.5" r="3.55" fill="#c55a11"/>
<circle cx="345.7" cy="786.1" r="3.55" fill="#c55a11"/>
<circle cx="368.8" cy="795.6" r="3.55" fill="#c55a11"/>
<circle cx="388.5" cy="802.7" r="3.55" fill="#c55a11"/>
<circle cx="418.5" cy="776.8" r="3.55" fill="#c55a11"/>
<circle cx="441.7" cy="752.4" r="3.55" fill="#c55a11"/>
<circle cx="467.3" cy="705.6" r="3.55" fill="#c55a11"/>
<circle cx="502.6" cy="686.7" r="3.55" fill="#c55a11"/>
<circle cx="518.0" cy="706.2" r="3.55" fill="#c55a11"/>
<circle cx="541.5" cy="673.1" r="3.55" fill="#c55a11"/>
<circle cx="565.9" cy="674.5" r="3.55" fill="#c55a11"/>
<polyline points="290.1,784.1 322.7,812.4 332.8,802.2 351.4,799.7 375.3,784.7 399.7,773.8 418.8,760.7 442.8,746.5 466.3,723.1 486.4,715.0 504.1,679.6 528.2,677.7 549.8,673.4 570.5,698.2 587.4,715.0" fill="none" stroke="#ffc936" stroke-width="2.65" stroke-linejoin="round" stroke-linecap="round"/>
<circle cx="290.1" cy="784.1" r="3.55" fill="#ffc936"/>
<circle cx="322.7" cy="812.4" r="3.55" fill="#ffc936"/>
<circle cx="332.8" cy="802.2" r="3.55" fill="#ffc936"/>
<circle cx="351.4" cy="799.7" r="3.55" fill="#ffc936"/>
<circle cx="375.3" cy="784.7" r="3.55" fill="#ffc936"/>
<circle cx="399.7" cy="773.8" r="3.55" fill="#ffc936"/>
<circle cx="418.8" cy="760.7" r="3.55" fill="#ffc936"/>
<circle cx="442.8" cy="746.5" r="3.55" fill="#ffc936"/>
<circle cx="466.3" cy="723.1" r="3.55" fill="#ffc936"/>
<circle cx="486.4" cy="715.0" r="3.55" fill="#ffc936"/>
<circle cx="504.1" cy="679.6" r="3.55" fill="#ffc936"/>
<circle cx="528.2" cy="677.7" r="3.55" fill="#ffc936"/>
<circle cx="549.8" cy="673.4" r="3.55" fill="#ffc936"/>
<circle cx="570.5" cy="698.2" r="3.55" fill="#ffc936"/>
<circle cx="587.4" cy="715.0" r="3.55" fill="#ffc936"/>
<polyline points="260.7,731.2 279.4,760.4 301.5,780.2 325.7,803.2 349.2,796.2 375.3,747.4 402.2,736.5 427.1,714.6 451.1,724.4 475.0,732.0 495.7,725.0 520.9,713.6 535.5,744.7 558.3,744.2 589.9,786.2" fill="none" stroke="#ffc000" stroke-width="2.65" stroke-linejoin="round" stroke-linecap="round"/>
<circle cx="260.7" cy="731.2" r="3.55" fill="#ffc000"/>
<circle cx="279.4" cy="760.4" r="3.55" fill="#ffc000"/>
<circle cx="301.5" cy="780.2" r="3.55" fill="#ffc000"/>
<circle cx="325.7" cy="803.2" r="3.55" fill="#ffc000"/>
<circle cx="349.2" cy="796.2" r="3.55" fill="#ffc000"/>
<circle cx="375.3" cy="747.4" r="3.55" fill="#ffc000"/>
<circle cx="402.2" cy="736.5" r="3.55" fill="#ffc000"/>
<circle cx="427.1" cy="714.6" r="3.55" fill="#ffc000"/>
<circle cx="451.1" cy="724.4" r="3.55" fill="#ffc000"/>
<circle cx="475.0" cy="732.0" r="3.55" fill="#ffc000"/>
<circle cx="495.7" cy="725.0" r="3.55" fill="#ffc000"/>
<circle cx="520.9" cy="713.6" r="3.55" fill="#ffc000"/>
<circle cx="535.5" cy="744.7" r="3.55" fill="#ffc000"/>
<circle cx="558.3" cy="744.2" r="3.55" fill="#ffc000"/>
<circle cx="589.9" cy="786.2" r="3.55" fill="#ffc000"/>
<polyline points="254.9,719.5 277.0,712.8 292.2,662.6 318.5,631.7 336.7,638.7 364.5,663.8 387.0,691.5 410.6,683.1 436.0,719.0 451.3,730.3 480.3,750.0 497.8,732.5 514.5,710.6 525.1,673.6 549.5,680.3 561.2,690.8 586.0,685.5" fill="none" stroke="#4472c4" stroke-width="2.65" stroke-linejoin="round" stroke-linecap="round"/>
<circle cx="254.9" cy="719.5" r="3.55" fill="#4472c4"/>
<circle cx="277.0" cy="712.8" r="3.55" fill="#4472c4"/>
<circle cx="292.2" cy="662.6" r="3.55" fill="#4472c4"/>
<circle cx="318.5" cy="631.7" r="3.55" fill="#4472c4"/>
<circle cx="336.7" cy="638.7" r="3.55" fill="#4472c4"/>
<circle cx="364.5" cy="663.8" r="3.55" fill="#4472c4"/>
<circle cx="387.0" cy="691.5" r="3.55" fill="#4472c4"/>
<circle cx="410.6" cy="683.1" r="3.55" fill="#4472c4"/>
<circle cx="436.0" cy="719.0" r="3.55" fill="#4472c4"/>
<circle cx="451.3" cy="730.3" r="3.55" fill="#4472c4"/>
<circle cx="480.3" cy="750.0" r="3.55" fill="#4472c4"/>
<circle cx="497.8" cy="732.5" r="3.55" fill="#4472c4"/>
<circle cx="514.5" cy="710.6" r="3.55" fill="#4472c4"/>
<circle cx="525.1" cy="673.6" r="3.55" fill="#4472c4"/>
<circle cx="549.5" cy="680.3" r="3.55" fill="#4472c4"/>
<circle cx="561.2" cy="690.8" r="3.55" fill="#4472c4"/>
<circle cx="586.0" cy="685.5" r="3.55" fill="#4472c4"/>
<line x1="634.3" y1="121.1" x2="653.9" y2="121.1" stroke="#70ad47" stroke-width="2.75"/>
<circle cx="644.1" cy="121.1" r="2.9" fill="#70ad47"/>
<text x="654.8" y="124.7" class="lg">CV69</text>
<line x1="634.3" y1="137.4" x2="653.9" y2="137.4" stroke="#255e91" stroke-width="2.75"/>
<circle cx="644.1" cy="137.4" r="2.9" fill="#255e91"/>
<text x="654.8" y="141.0" class="lg">CV52</text>
<line x1="634.3" y1="153.7" x2="653.9" y2="153.7" stroke="#9e480e" stroke-width="2.75"/>
<circle cx="644.1" cy="153.7" r="2.9" fill="#9e480e"/>
<text x="654.8" y="157.3" class="lg">CV126</text>
<line x1="634.3" y1="170.0" x2="653.9" y2="170.0" stroke="#a8a8a8" stroke-width="2.75"/>
<circle cx="644.1" cy="170.0" r="2.9" fill="#a8a8a8"/>
<text x="654.8" y="173.6" class="lg">CV72</text>
<line x1="634.3" y1="186.3" x2="653.9" y2="186.3" stroke="#636363" stroke-width="2.75"/>
<circle cx="644.1" cy="186.3" r="2.9" fill="#636363"/>
<text x="654.8" y="189.9" class="lg">CV125</text>
<line x1="634.3" y1="202.6" x2="653.9" y2="202.6" stroke="#997300" stroke-width="2.75"/>
<circle cx="644.1" cy="202.6" r="2.9" fill="#997300"/>
<text x="654.8" y="206.2" class="lg">CV32</text>
<line x1="634.3" y1="218.9" x2="653.9" y2="218.9" stroke="#264478" stroke-width="2.75"/>
<circle cx="644.1" cy="218.9" r="2.9" fill="#264478"/>
<text x="654.8" y="222.5" class="lg">CV122</text>
<line x1="634.3" y1="235.2" x2="653.9" y2="235.2" stroke="#43682b" stroke-width="2.75"/>
<circle cx="644.1" cy="235.2" r="2.9" fill="#43682b"/>
<text x="654.8" y="238.8" class="lg">CV137</text>
<line x1="634.3" y1="251.5" x2="653.9" y2="251.5" stroke="#7cafdd" stroke-width="2.75"/>
<circle cx="644.1" cy="251.5" r="2.9" fill="#7cafdd"/>
<text x="654.8" y="255.1" class="lg">CV113</text>
<line x1="634.3" y1="267.8" x2="653.9" y2="267.8" stroke="#f1975a" stroke-width="2.75"/>
<circle cx="644.1" cy="267.8" r="2.9" fill="#f1975a"/>
<text x="654.8" y="271.4" class="lg">CV97</text>
<line x1="634.3" y1="284.1" x2="653.9" y2="284.1" stroke="#bdbdbd" stroke-width="2.75"/>
<circle cx="644.1" cy="284.1" r="2.9" fill="#bdbdbd"/>
<text x="654.8" y="287.7" class="lg">CV41</text>
<line x1="634.3" y1="300.4" x2="653.9" y2="300.4" stroke="#698ed0" stroke-width="2.75"/>
<circle cx="644.1" cy="300.4" r="2.9" fill="#698ed0"/>
<text x="654.8" y="304.0" class="lg">CV129</text>
<line x1="634.3" y1="316.7" x2="653.9" y2="316.7" stroke="#3a0f5c" stroke-width="2.75"/>
<circle cx="644.1" cy="316.7" r="2.9" fill="#3a0f5c"/>
<text x="654.8" y="320.3" class="lg">CV112</text>
<line x1="634.3" y1="333.0" x2="653.9" y2="333.0" stroke="#2e80c8" stroke-width="2.75"/>
<circle cx="644.1" cy="333.0" r="2.9" fill="#2e80c8"/>
<text x="654.8" y="336.6" class="lg">CV42</text>
<line x1="634.3" y1="349.3" x2="653.9" y2="349.3" stroke="#c9a000" stroke-width="2.75"/>
<circle cx="644.1" cy="349.3" r="2.9" fill="#c9a000"/>
<text x="654.8" y="352.9" class="lg">CV43</text>
<line x1="634.3" y1="365.6" x2="653.9" y2="365.6" stroke="#2f55a4" stroke-width="2.75"/>
<circle cx="644.1" cy="365.6" r="2.9" fill="#2f55a4"/>
<text x="654.8" y="369.2" class="lg">CV149</text>
<line x1="647" y1="660.0" x2="666.8" y2="660.0" stroke="#5b9bd5" stroke-width="2.75"/>
<circle cx="656.9" cy="660.0" r="2.9" fill="#5b9bd5"/>
<text x="667.4" y="663.6" class="lg">T8</text>
<line x1="647" y1="676.3" x2="666.8" y2="676.3" stroke="#ed7d31" stroke-width="2.75"/>
<circle cx="656.9" cy="676.3" r="2.9" fill="#ed7d31"/>
<text x="667.4" y="679.9" class="lg">T76</text>
<line x1="647" y1="692.7" x2="666.8" y2="692.7" stroke="#7f7f7f" stroke-width="2.75"/>
<circle cx="656.9" cy="692.7" r="2.9" fill="#7f7f7f"/>
<text x="667.4" y="696.3" class="lg">T9</text>
<line x1="647" y1="709.0" x2="666.8" y2="709.0" stroke="#c55a11" stroke-width="2.75"/>
<circle cx="656.9" cy="709.0" r="2.9" fill="#c55a11"/>
<text x="667.4" y="712.6" class="lg">T63</text>
<line x1="647" y1="725.3" x2="666.8" y2="725.3" stroke="#ffc936" stroke-width="2.75"/>
<circle cx="656.9" cy="725.3" r="2.9" fill="#ffc936"/>
<text x="667.4" y="728.9" class="lg">T44</text>
<line x1="647" y1="741.6" x2="666.8" y2="741.6" stroke="#ffc000" stroke-width="2.75"/>
<circle cx="656.9" cy="741.6" r="2.9" fill="#ffc000"/>
<text x="667.4" y="745.2" class="lg">T48</text>
<line x1="647" y1="758.0" x2="666.8" y2="758.0" stroke="#4472c4" stroke-width="2.75"/>
<circle cx="656.9" cy="758.0" r="2.9" fill="#4472c4"/>
<text x="667.4" y="761.6" class="lg">T47</text>
</svg>
</body></html>
